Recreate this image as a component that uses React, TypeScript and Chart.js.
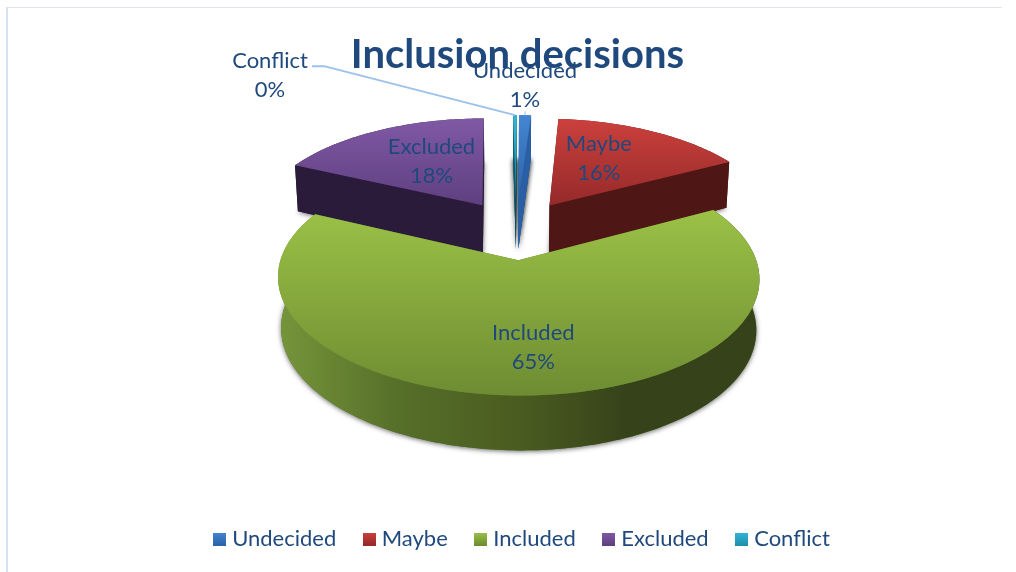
import React, { useEffect, useRef } from "react";
import { Chart, registerables } from "chart.js";

Chart.register(...registerables);

const categories = ["Undecided", "Maybe", "Included", "Excluded", "Conflict"];
const shares = [1, 16, 65, 18, 0.3];
const explode = [0.28, 0.28, 0.28, 0.28, 0.28];
const topLight = ["#4585d2", "#cc403c", "#9bc146", "#8059a5", "#31b6d8"];
const topDark = ["#2a62a8", "#952a2a", "#6e8c32", "#5f3f80", "#1f8fab"];
const wallColors = ["#2a5fa5", "#4e1614", "#5a7a2c", "#2b1b3b", "#0f5a6a"];

const TEXT = "#1F497D";
const FONT = "Lato";

// Perspective model of the tilted pie
const CX = 516.1, CY = 229.5, A = 228.3, B = 105.8, P = 0.145, Q = 0.144, SK = 2.4;

function project(u: number, v: number, bottom: boolean): [number, number] {
  const cx = CX + SK * v;
  let x = cx + (A * u) / (1 - P * v);
  let y = CY + (B * v) / (1 - Q * v);
  if (bottom) {
    x = cx + (x - cx) * 0.987;
    y += 49 + 4.6 * v;
  }
  return [x, y];
}

const placement = [
  { frac: 1, dx: 0, dy: -30 },
  { frac: 0.5, dx: -5, dy: -8 },
  { frac: 0.68, dx: 9, dy: 0 },
  { frac: 0.5, dx: 4, dy: -4 },
  { frac: 1, dx: -245, dy: -40 },
];

const pie3d = {
  id: "pie3d",
  afterLayout(chart: any) {
    chart.legend.left += 13;
  },
  beforeDatasetsDraw(chart: any) {
    const ctx = chart.ctx as CanvasRenderingContext2D;
    const arcs = chart.getDatasetMeta(0).data as any[];
    const slices = arcs.map((arc, i) => {
      const { startAngle, endAngle } = arc.getProps(["startAngle", "endAngle"], true);
      const mid = (startAngle + endAngle) / 2;
      const ou = Math.cos(mid) * explode[i];
      const ov = Math.sin(mid) * explode[i];
      const pt = (a: number, r: number, bottom: boolean) =>
        project(ou + Math.cos(a) * r, ov + Math.sin(a) * r, bottom);
      const n = Math.max(2, Math.ceil(((endAngle - startAngle) * 180) / Math.PI));
      const angles: number[] = [];
      for (let k = 0; k <= n; k++) angles.push(startAngle + ((endAngle - startAngle) * k) / n);
      return { i, mid, startAngle, endAngle, pt, angles, sweep: endAngle - startAngle };
    });

    const poly = (pts: [number, number][]) => {
      ctx.beginPath();
      pts.forEach((p, k) => (k ? ctx.lineTo(p[0], p[1]) : ctx.moveTo(p[0], p[1])));
      ctx.closePath();
    };

    const order = [...slices].sort((a, b) => Math.sin(a.mid) - Math.sin(b.mid));
    ctx.save();
    ctx.lineJoin = "round";
    for (const s of order) {
      const top = [s.pt(0, 0, false), ...s.angles.map((a) => s.pt(a, 1, false))] as [number, number][];
      const bot = [s.pt(0, 0, true), ...s.angles.map((a) => s.pt(a, 1, true))] as [number, number][];

      ctx.save();
      ctx.shadowColor = "rgba(0,0,0,0.6)";
      ctx.shadowBlur = 5;
      ctx.shadowOffsetY = 1;
      ctx.fillStyle = wallColors[s.i];
      poly(bot);
      ctx.fill();
      if (s.sweep < 0.2) ctx.fill();
      ctx.restore();

      // radial side walls
      ctx.fillStyle = wallColors[s.i];
      for (const a of [s.startAngle, s.endAngle]) {
        poly([s.pt(0, 0, false), s.pt(a, 1, false), s.pt(a, 1, true), s.pt(0, 0, true)]);
        ctx.fill();
      }

      // outer curved wall
      const outerTop = s.angles.map((a) => s.pt(a, 1, false));
      const outerBot = s.angles.map((a) => s.pt(a, 1, true)).reverse();
      let wallFill: any = wallColors[s.i];
      if (categories[s.i] === "Included") {
        const g = ctx.createLinearGradient(278, 0, 760, 0);
        g.addColorStop(0, "#76953a");
        g.addColorStop(0.25, "#566f29");
        g.addColorStop(0.5, "#4a5c20");
        g.addColorStop(0.72, "#36431a");
        g.addColorStop(1, "#36431a");
        wallFill = g;
      }
      ctx.fillStyle = wallFill;
      poly([...outerTop, ...outerBot]);
      ctx.fill();

      // top surface
      const ys = top.map((p) => p[1]);
      const g = ctx.createLinearGradient(0, Math.min(...ys), 0, Math.max(...ys));
      g.addColorStop(0, topLight[s.i]);
      g.addColorStop(1, topDark[s.i]);
      ctx.fillStyle = g;
      poly(top);
      ctx.fill();
    }

    // labels and leader lines
    const total = shares.reduce((a, b) => a + b, 0);
    ctx.font = `22px ${FONT}`;
    ctx.textAlign = "center";
    ctx.textBaseline = "middle";
    slices.forEach((s) => {
      const pl = placement[s.i];
      const [ax, ay] = s.pt(s.mid, pl.frac, false);
      const lx = ax + pl.dx;
      const ly = ay + pl.dy;
      if (categories[s.i] === "Conflict") {
        const [ex, ey] = s.pt(s.mid, 1, false);
        ctx.strokeStyle = "#9cc2ec";
        ctx.lineWidth = 2;
        ctx.beginPath();
        ctx.moveTo(lx + 42, ly - 9);
        ctx.lineTo(lx + 54, ly - 9);
        ctx.lineTo(ex, ey);
        ctx.stroke();
      }
      if (categories[s.i] === "Undecided") {
        const [ex, ey] = s.pt(s.mid, 1, false);
        ctx.strokeStyle = "#9cc2ec";
        ctx.lineWidth = 1;
        ctx.beginPath();
        ctx.moveTo(ex, ey - 4);
        ctx.lineTo(ex, ey);
        ctx.stroke();
      }
      ctx.fillStyle = TEXT;
      ctx.fillText(categories[s.i], lx, ly - 14.5);
      ctx.fillText(`${Math.round((shares[s.i] / total) * 100)}%`, lx, ly + 14.5);
    });
    ctx.restore();
    return false;
  },
};

function legendSwatch(i: number) {
  const c = document.createElement("canvas");
  c.width = 13;
  c.height = 13;
  const x = c.getContext("2d")!;
  const g = x.createLinearGradient(0, 0, 0, 13);
  g.addColorStop(0, topLight[i]);
  g.addColorStop(1, topDark[i]);
  x.fillStyle = g;
  x.fillRect(0, 0, 13, 13);
  return c;
}

export default function App() {
  const ref = useRef<HTMLCanvasElement | null>(null);
  useEffect(() => {
    const swatches = categories.map((_, i) => legendSwatch(i));
    const chart = new Chart(ref.current!, {
      type: "pie",
      data: {
        labels: categories,
        datasets: [{ data: shares, backgroundColor: topLight, borderWidth: 0 }],
      },
      plugins: [pie3d],
      options: {
        responsive: false,
        animation: false,
        rotation: 1,
        layout: { padding: { left: 19, right: 0, top: 0, bottom: 12 } },
        plugins: {
          tooltip: { enabled: false },
          title: {
            display: true,
            text: "Inclusion decisions",
            color: TEXT,
            font: { family: FONT, size: 40, weight: "bold" },
            padding: { top: 31, bottom: 10 },
          },
          legend: {
            position: "bottom",
            labels: {
              color: TEXT,
              font: { family: FONT, size: 22 },
              usePointStyle: true,
              boxWidth: 3,
              boxHeight: 13,
              padding: 31.5,
              generateLabels: () =>
                categories.map((text, i) => ({
                  text,
                  fillStyle: topLight[i],
                  strokeStyle: topLight[i],
                  lineWidth: 0,
                  fontColor: TEXT,
                  pointStyle: swatches[i],
                  index: i,
                  hidden: false,
                })),
            },
          },
        },
      },
    } as any);
    return () => chart.destroy();
  }, []);
  return (
    <div style={{ position: "fixed", left: 0, top: 0, width: 1016, height: 572, background: "#fff", overflow: "hidden" }}>
      <div
        style={{
          position: "absolute",
          left: 6,
          top: 7,
          width: 994,
          height: 565,
          borderTop: "1px solid #dbe6f1",
          borderLeft: "2px solid #d6e3f5",
        }}
      />
      <canvas ref={ref} width={1016} height={572} style={{ position: "absolute", left: 0, top: 0 }} />
    </div>
  );
}
